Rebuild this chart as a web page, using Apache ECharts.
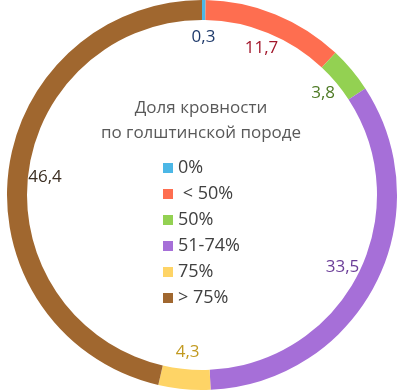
<!DOCTYPE html>
<html>
  <head>
    <meta charset="UTF-8" />
    <script src="https://cdn.jsdelivr.net/npm/echarts@6/dist/echarts.min.js"></script>
    <style>
      html, body { margin: 0; padding: 0; background: #fff; }
    </style>
  </head>
  <body>
    <div id="main"></div>
    <script>
      const width = 402;
      const height = 392;
      const main = document.getElementById('main');
      main.style.width = `${width}px`;
      main.style.height = `${height}px`;

      const categories = ['0%', ' < 50%', '50%', '51-74%', '75%', '> 75%'];
      const values = [0.3, 11.7, 3.8, 33.5, 4.3, 46.4];
      const valueLabels = ['0,3', '11,7', '3,8', '33,5', '4,3', '46,4'];
      const colors = ['#4cb7e6', '#fe6e50', '#93d152', '#a66fd8', '#fed466', '#a0672f'];
      const labelColors = ['#1f3a6b', '#a2172b', '#4e7a25', '#6b3d98', '#c29a20', '#3b2e22'];

      const FONT = 'Open Sans';

      const data = categories.map((name, i) => ({
        name,
        value: values[i],
        itemStyle: { color: colors[i] },
      }));

      const labelData = categories.map((name, i) => ({
        name,
        value: values[i],
        label: {
          formatter: valueLabels[i],
          color: labelColors[i],
        },
      }));

      const center = [202, 195];

      const myChart = echarts.init(main, null, { renderer: 'canvas' });
      const option = {
        animation: false,
        title: {
          text: 'Доля кровности\nпо голштинской породе',
          left: 'center',
          top: 91,
          textStyle: {
            fontFamily: FONT,
            fontSize: 17,
            fontWeight: 'normal',
            color: '#595959',
            lineHeight: 25,
          },
        },
        legend: {
          orient: 'vertical',
          left: 158,
          top: 154,
          itemWidth: 10,
          itemHeight: 10,
          itemGap: 8,
          icon: 'rect',
          textStyle: {
            fontFamily: FONT,
            fontSize: 18,
            color: '#404040',
          },
          data: categories,
        },
        series: [
          {
            type: 'pie',
            center,
            radius: [175, 195],
            startAngle: 90,
            clockwise: true,
            label: { show: false },
            labelLine: { show: false },
            emphasis: { disabled: true },
            data,
          },
          {
            type: 'pie',
            center,
            radius: [146, 164],
            startAngle: 90,
            clockwise: true,
            silent: true,
            legendHoverLink: false,
            itemStyle: { color: 'rgba(0,0,0,0)' },
            label: {
              show: true,
              position: 'inside',
              fontFamily: FONT,
              fontSize: 17,
            },
            labelLine: { show: false },
            data: labelData,
          },
        ],
      };
      myChart.setOption(option);
    </script>
  </body>
</html>
